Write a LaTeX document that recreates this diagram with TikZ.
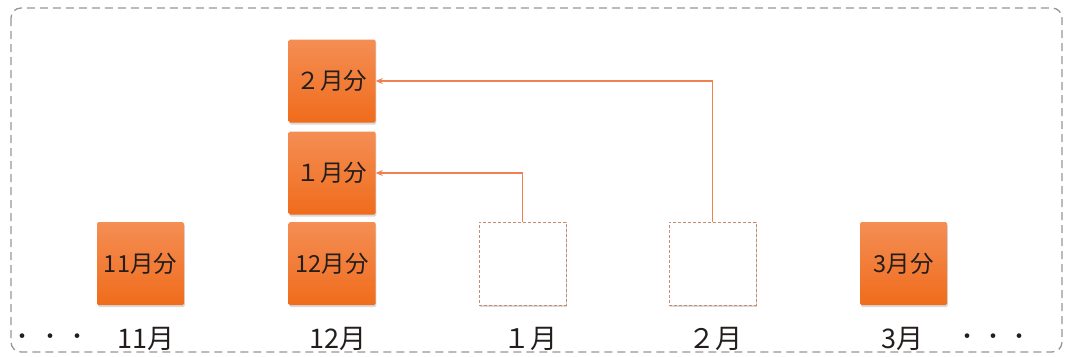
\documentclass[tikz,border=0pt]{standalone}
\usepackage{fontspec}
\setmainfont{Noto Sans CJK JP}
\usetikzlibrary{shadows,arrows.meta}
\definecolor{boxtop}{RGB}{244,142,84}
\definecolor{boxbot}{RGB}{240,108,28}
\definecolor{arrowc}{RGB}{240,128,80}
\definecolor{framec}{RGB}{150,150,150}
\definecolor{emptyc}{RGB}{200,140,110}
\definecolor{txt}{RGB}{35,30,28}
\tikzset{
  monthbox/.style={minimum width=87pt, minimum height=83pt, inner sep=0pt,
    top color=boxtop, bottom color=boxbot, rounded corners=1.5pt,
    drop shadow={opacity=0.3, shadow xshift=0.8pt, shadow yshift=-2pt},
    font=\fontsize{23.5}{24}\selectfont, text=txt},
  emptybox/.style={minimum width=87pt, minimum height=83pt, inner sep=0pt,
    draw=emptyc, dash pattern=on 3pt off 2pt, line width=1pt, fill=white,
    drop shadow={opacity=0.3, shadow xshift=0.8pt, shadow yshift=-2pt}},
  monthlabel/.style={font=\fontsize{27}{27}\selectfont, text=txt, inner sep=0pt},
  dotslabel/.style={font=\fontsize{22}{22}\selectfont, text=txt, inner sep=0pt},
  movearrow/.style={draw=arrowc, line width=1.8pt, -{Stealth[length=7pt,width=6pt]}},
}
\begin{document}
\begin{tikzpicture}[x=1pt,y=-1pt]
\useasboundingbox (0,0) rectangle (1067,356);
\draw[framec, line width=1.3pt, dash pattern=on 8pt off 5pt, rounded corners=10pt] (11,8) rectangle (1062,352);
\node[monthbox] (b11) at (140.5,263.5) {11月分};
\node[monthbox] (b12) at (332,263.5) {12月分};
\node[monthbox] (b1) at (332,173) {１月分};
\node[monthbox] (b2) at (332,81) {２月分};
\node[emptybox] (e1) at (522.5,263.5) {};
\node[emptybox] (e2) at (712.5,263.5) {};
\node[monthbox] (b3) at (903.5,263.5) {3月分};
\draw[movearrow] (e1.north) |- (b1.east);
\draw[movearrow] (e2.north) |- (b2.east);
\node[dotslabel] (dl1) at (23,339) {・};
\node[dotslabel] (dl2) at (50,339) {・};
\node[dotslabel] (dl3) at (77,339) {・};
\node[monthlabel] (m11) at (146,339) {11月};
\node[monthlabel] (m12) at (338,339) {12月};
\node[monthlabel] (m1) at (530,339) {１月};
\node[monthlabel] (m2) at (715,339) {２月};
\node[monthlabel] (m3) at (902,339) {3月};
\node[dotslabel] (dr1) at (967,339) {・};
\node[dotslabel] (dr2) at (993,339) {・};
\node[dotslabel] (dr3) at (1019,339) {・};
\end{tikzpicture}
\end{document}
